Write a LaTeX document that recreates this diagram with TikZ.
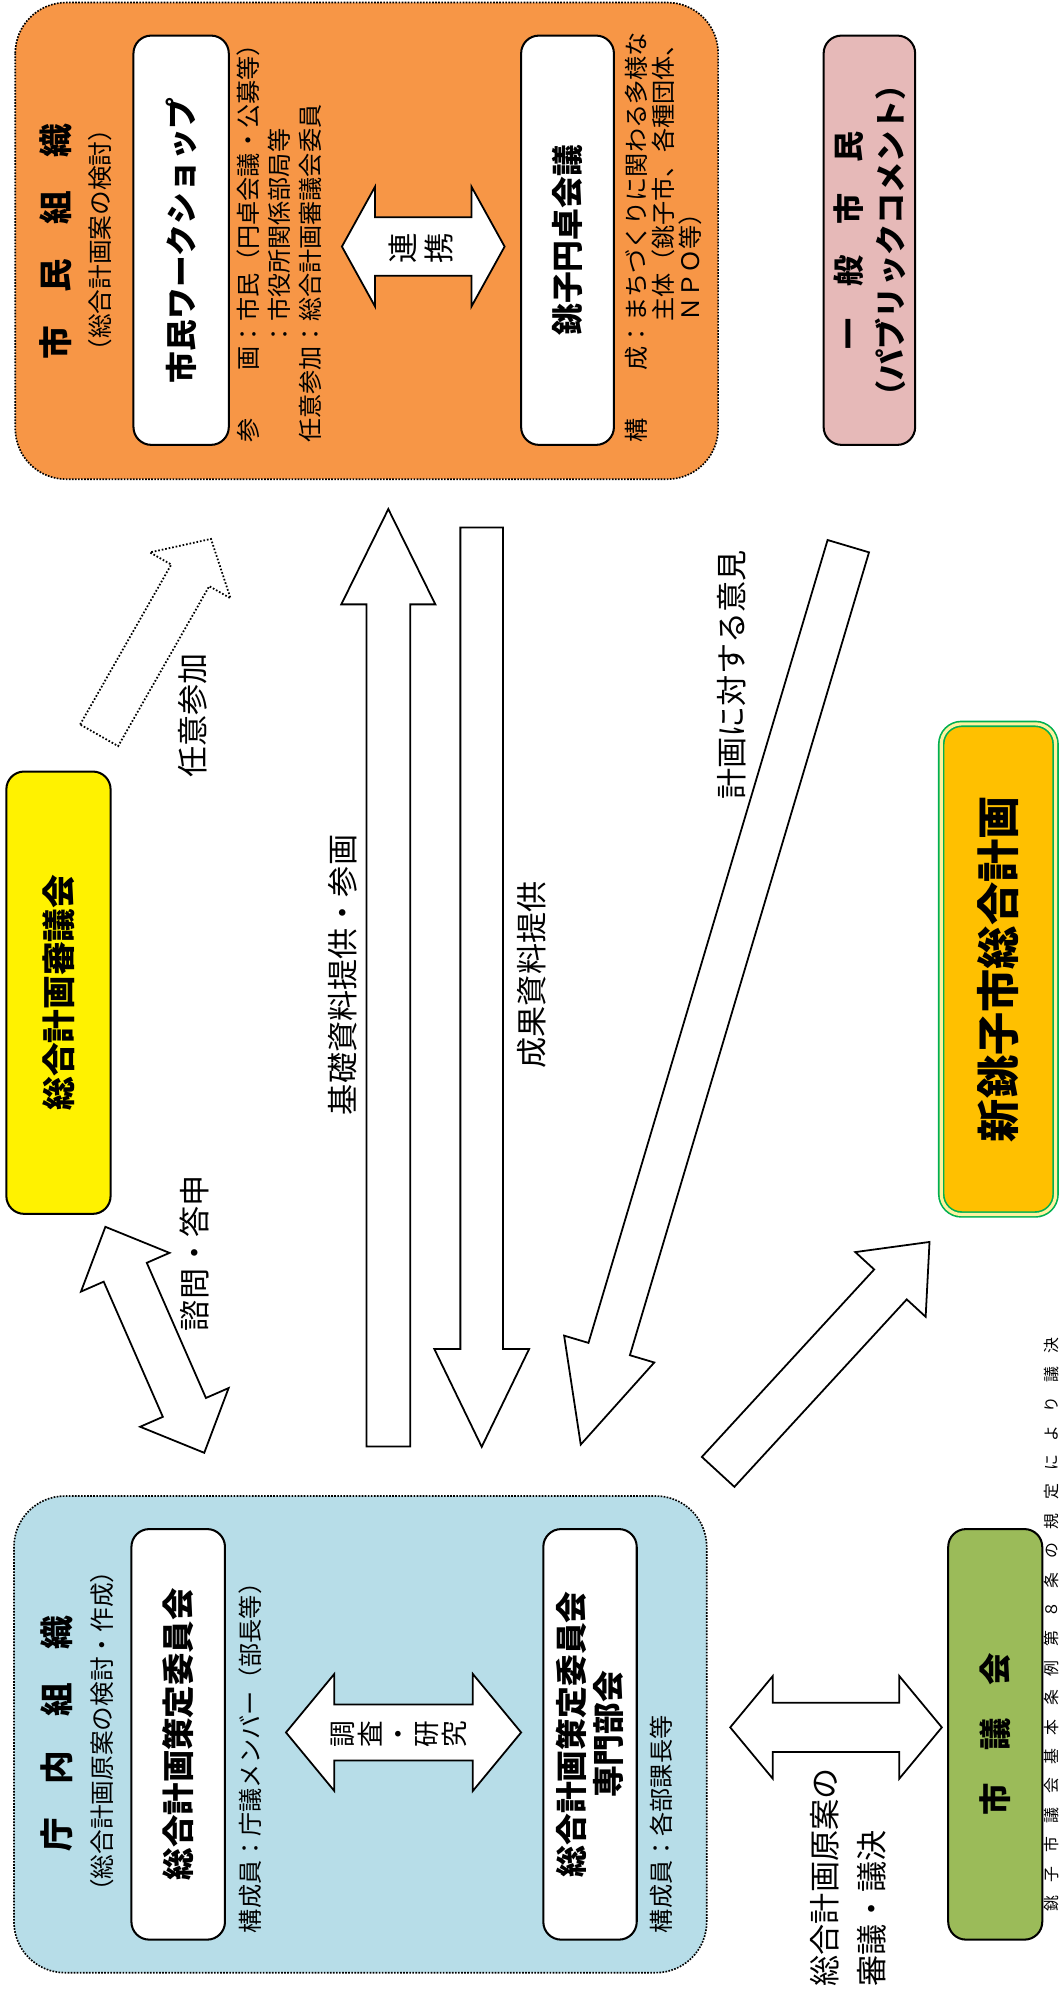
\documentclass[tikz,border=0pt]{standalone}
\usepackage{fontspec}
\setmainfont{Noto Sans CJK JP}
\usetikzlibrary{calc}
\newcommand\fsz[1]{\fontsize{#1}{#1}\selectfont}
\definecolor{orgC}{HTML}{F79646}
\definecolor{pinkC}{HTML}{E6B9B8}
\definecolor{blueC}{HTML}{B7DDE8}
\definecolor{grnC}{HTML}{9BBB59}
\definecolor{goldC}{HTML}{FFC000}
\definecolor{dgrn}{HTML}{00B050}
\definecolor{paleY}{HTML}{FFF2A0}
% single block arrow: #1 style, #2 tail, #3 tip, #4 shaft half width, #5 head half width, #6 head length
\newcommand\singlearrow[6]{%
  \coordinate (#2h) at ($(#3)!#6!(#2)$);
  \draw[#1] ($(#2)!#4!90:(#3)$) -- ($(#2h)!#4!90:(#3)$) -- ($(#2h)!#5!90:(#3)$) -- (#3)
    -- ($(#2h)!#5!-90:(#3)$) -- ($(#2h)!#4!-90:(#3)$) -- ($(#2)!#4!-90:(#3)$) -- cycle;
}
% double block arrow: #1 style, #2 tip A, #3 tip B, #4 shaft half width, #5 head half width, #6 head length
\newcommand\doublearrow[6]{%
  \coordinate (#2h) at ($(#2)!#6!(#3)$);
  \coordinate (#3h) at ($(#3)!#6!(#2)$);
  \draw[#1] (#2) -- ($(#2h)!#5!90:(#3)$) -- ($(#2h)!#4!90:(#3)$) -- ($(#3h)!#4!-90:(#2)$)
    -- ($(#3h)!#5!-90:(#2)$) -- (#3) -- ($(#3h)!#5!90:(#2)$) -- ($(#3h)!#4!90:(#2)$)
    -- ($(#2h)!#4!-90:(#3)$) -- ($(#2h)!#5!-90:(#3)$) -- cycle;
}
\begin{document}
\begin{tikzpicture}[x=1pt,y=-1pt,
  lbl/.style={rotate=90, inner sep=0pt, font=\fsz{24.5}},
  note/.style={rotate=90, inner sep=0pt, anchor=west, font=\fsz{19}},
  ttl/.style={rotate=90, inner sep=0pt, font=\bfseries\fsz{26.5}},
  subttl/.style={rotate=90, inner sep=0pt, font=\fsz{19.4}},
  wbox/.style={draw, fill=white, rounded corners=14pt, line width=1.6pt, rotate=90, inner sep=0pt, font=\bfseries\fsz{25}, align=center},
  orgbox/.style={rotate=90, rounded corners=40pt, line width=1.3pt, dash pattern=on 1.3pt off 1.1pt, draw=black, inner sep=0pt},
  blk/.style={draw=black, fill=white, line width=1.4pt, line join=miter},
  blkdot/.style={draw=black, fill=white, line width=1.4pt, dash pattern=on 1.3pt off 1.5pt, line join=miter},
]
\useasboundingbox (0,0) rectangle (834,1568);
\fill[white] (0,0) rectangle (834,1568);

% ---------- citizen organisation ----------
\node[orgbox, fill=orgC, minimum width=375pt, minimum height=553pt] (shimin) at (288.5,189.5) {};
\node[ttl] (shiminT) at (44,190) {市　民　組　織};
\node[subttl] (shiminS) at (78.6,189) {（総合計画案の検討）};
\node[wbox, minimum width=322pt, minimum height=75pt] (ws) at (142.5,189) {市民ワークショップ};
\node[note] (wsn1) at (195,348.5) {参　　画：市民（円卓会議・公募等）};
\node[note] (wsn2) at (219.5,348.5) {　　　　：市役所関係部局等};
\node[note] (wsn3) at (244,348.5) {任意参加：総合計画審議会委員};
\coordinate (renA) at (269,194);
\coordinate (renB) at (397,194);
\doublearrow{blk}{renA}{renB}{23pt}{47pt}{26pt}
\node[rotate=90, inner sep=0pt, align=center, font=\fontsize{24}{28}\selectfont] (renT) at (331,195) {連\\携};
\node[wbox, minimum width=322pt, minimum height=73pt] (entaku) at (446.5,189) {銚子円卓会議};
\node[note] (etn1) at (501,348.5) {構　　成：まちづくりに関わる多様な};
\node[note] (etn2) at (522,348.5) {　　　　　主体（銚子市、各種団体、};
\node[note] (etn3) at (543,348.5) {　　　　　ＮＰＯ等）};

% ---------- general citizens ----------
\node[wbox, fill=pinkC, minimum width=322pt, minimum height=72pt, font=\bfseries\fontsize{24.5}{33}\selectfont] (ippan) at (684,189) {一　般　市　民\\（パブリックコメント）};

% ---------- council ----------
\node[wbox, fill=yellow, minimum width=348pt, minimum height=82pt, font=\bfseries\fsz{26.5}] (shingi) at (46,781) {総合計画審議会};

% ---------- new plan ----------
\node[rotate=90, inner sep=0pt, rounded corners=16pt, fill=goldC, draw=dgrn, line width=1.3pt, double=paleY, double distance=2.5pt, minimum width=386pt, minimum height=90pt, font=\bfseries\fsz{34}] (plan) at (785.5,762.5) {新銚子市総合計画};

% ---------- internal organisation ----------
\node[orgbox, fill=blueC, minimum width=375pt, minimum height=545pt] (chonai) at (283.5,1364.5) {};
\node[ttl] (chonaiT) at (45,1364) {庁　内　組　織};
\node[subttl] (chonaiS) at (80,1362) {（総合計画原案の検討・作成）};
\node[wbox, minimum width=323pt, minimum height=73.6pt, font=\bfseries\fsz{25.5}] (sakutei) at (140.2,1364.5) {総合計画策定委員会};
\node[note] (skn) at (196.7,1521) {構成員：庁議メンバー（部長等）};
\coordinate (choA) at (225,1363);
\coordinate (choB) at (410,1363);
\doublearrow{blk}{choA}{choB}{22pt}{46pt}{38pt}
\node[rotate=90, inner sep=0pt, align=center, font=\fontsize{21}{22}\selectfont] (choT) at (314,1364) {調\\査\\・\\研\\究};
\node[wbox, minimum width=323pt, minimum height=73.5pt, font=\bfseries\fontsize{25}{29}\selectfont] (senmon) at (464.2,1364.5) {総合計画策定委員会\\専門部会};
\node[note] (smn) at (520.6,1521) {構成員：各部課長等};

% ---------- city assembly ----------
\node[wbox, fill=grnC, minimum width=323pt, minimum height=74pt, font=\bfseries\fsz{25.5}] (gikai) at (783,1364.5) {市　議　会};
\coordinate (gikA) at (574.5,1359);
\coordinate (gikB) at (741,1359);
\doublearrow{blk}{gikA}{gikB}{19.3pt}{40.4pt}{33.5pt}
\node[lbl, anchor=west] (gikT1) at (649,1563) {総合計画原案の};
\node[lbl, anchor=west] (gikT2) at (686,1563) {審議・議決};
\node[rotate=90, anchor=east, inner sep=0pt, font=\fsz{12.5}\addfontfeature{LetterSpace=85}] (foot) at (827.6,1052) {銚子市議会基本条例第８条の規定により議決};

% ---------- connectors ----------
\coordinate (shiA) at (82.9,965.2);
\coordinate (shiB) at (160.7,1143);
\doublearrow{blk}{shiA}{shiB}{18.5pt}{38pt}{39pt}
\node[lbl] (shiT) at (153,986) {諮問・答申};

\coordinate (ninT) at (78,578.5);
\coordinate (ninP) at (166,424);
\singlearrow{blkdot}{ninT}{ninP}{17.2pt}{36.5pt}{33pt}
\node[lbl] (ninL) at (151.7,563) {任意参加};

\coordinate (kisT) at (305.5,1138);
\coordinate (kisP) at (305.5,400.5);
\singlearrow{blk}{kisT}{kisP}{17.2pt}{37pt}{75pt}
\node[lbl] (kisL) at (270,767) {基礎資料提供・参画};

\coordinate (seiT) at (379,415);
\coordinate (seiP) at (379,1138.3);
\singlearrow{blk}{seiT}{seiP}{16.8pt}{37.3pt}{77pt}
\node[lbl] (seiL) at (418,767) {成果資料提供};

\coordinate (ikeT) at (667.4,429.7);
\coordinate (ikeP) at (456.9,1136.5);
\singlearrow{blk}{ikeT}{ikeP}{17pt}{37pt}{78.4pt}
\node[lbl] (ikeL) at (576,531) {計画に対する意見};

\coordinate (shnT) at (565,1158);
\coordinate (shnP) at (731.3,977.1);
\singlearrow{blk}{shnT}{shnP}{17.4pt}{37.6pt}{45.4pt}
\end{tikzpicture}
\end{document}
